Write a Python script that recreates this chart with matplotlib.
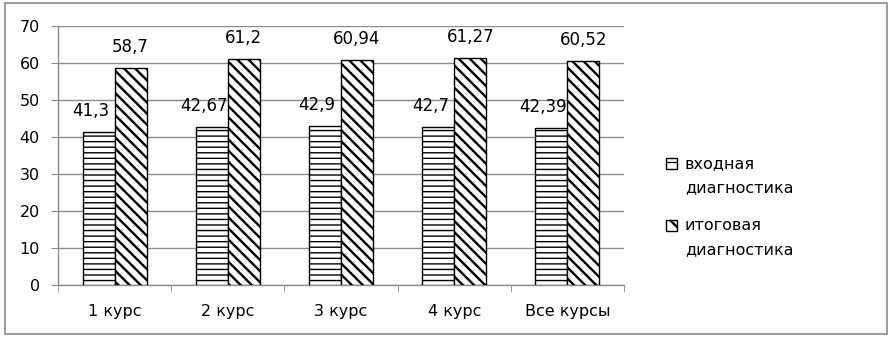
import matplotlib
matplotlib.use("Agg")
import matplotlib.pyplot as plt
import numpy as np
from matplotlib.patches import Rectangle

categories = ["1 курс", "2 курс", "3 курс", "4 курс", "Все курсы"]
entry_vals = [41.3, 42.67, 42.9, 42.7, 42.39]
final_vals = [58.7, 61.2, 60.94, 61.27, 60.52]
entry_labels = ["41,3", "42,67", "42,9", "42,7", "42,39"]
final_labels = ["58,7", "61,2", "60,94", "61,27", "60,52"]
series_names = ["входная\nдиагностика", "итоговая\nдиагностика"]

plt.rcParams['font.family'] = ['DejaVu Sans']
plt.rcParams['hatch.color'] = 'black'

W, H = 894, 341
fig = plt.figure(figsize=(W/100, H/100), dpi=100)
ax = fig.add_axes([58/W, 1 - 285/H, (624-58)/W, (285-26)/H])

x = np.arange(len(categories))
w = 0.283
hatches = ['---', '\\\\\\']
hlw = [1.0, 1.7]

plt.rcParams['hatch.linewidth'] = hlw[0]
b1 = ax.bar(x - w/2, entry_vals, w, color='white', edgecolor='black', hatch=hatches[0], linewidth=1.0, zorder=3)
plt.rcParams['hatch.linewidth'] = hlw[1]
b2 = ax.bar(x + w/2, final_vals, w, color='white', edgecolor='black', hatch=hatches[1], linewidth=1.0, zorder=3)
for bars, lw in ((b1, hlw[0]), (b2, hlw[1])):
    for p in bars:
        if hasattr(p, 'set_hatch_linewidth'):
            p.set_hatch_linewidth(lw)

fs = 11.5
vfs = 12
for xi, v, lab in zip(x, entry_vals, entry_labels):
    ax.text(xi - w/2 - 0.07, v + 3.2, lab, ha='center', va='bottom', fontsize=vfs)
for xi, v, lab in zip(x, final_vals, final_labels):
    ax.text(xi + w/2, v + 3.2, lab, ha='center', va='bottom', fontsize=vfs)

ax.set_xlim(-0.5, len(categories) - 0.5)
ax.set_ylim(0, 70)
ax.set_yticks(range(0, 71, 10))
ax.yaxis.grid(True, color='#8c8c8c', linewidth=1.0, zorder=0)
ax.set_axisbelow(True)

ax.set_xticks(x)
ax.set_xticklabels(categories, fontsize=fs)
ax.set_xticks(np.arange(-0.5, len(categories)), minor=True)
ax.tick_params(axis='x', which='major', length=0, pad=14)
ax.tick_params(axis='x', which='minor', length=5, color='#8c8c8c', direction='out')
ax.tick_params(axis='y', labelsize=fs, length=5, color='#8c8c8c', direction='out', pad=8)

for s in ['top', 'right']:
    ax.spines[s].set_visible(False)
for s in ['left', 'bottom']:
    ax.spines[s].set_color('#8c8c8c')
    ax.spines[s].set_linewidth(1.0)

# legend drawn manually (marker aligned to first text line)
leg_y = [158, 220]
leg_hatches = ['--', '\\\\']
for i, (name, yy) in enumerate(zip(series_names, leg_y)):
    plt.rcParams['hatch.linewidth'] = hlw[i]
    r = Rectangle((666/W, 1 - (yy + 11)/H), 11/W, 11/H, transform=fig.transFigure,
                  facecolor='white', edgecolor='black', hatch=leg_hatches[i],
                  linewidth=1.0)
    if hasattr(r, 'set_hatch_linewidth'):
        r.set_hatch_linewidth(hlw[i])
    fig.patches.append(r)
    fig.text(685/W, 1 - (yy - 2)/H, name, ha='left', va='top', fontsize=fs, linespacing=1.75)

fig.patches.append(Rectangle((5/W, 1 - 334/H), (887-5)/W, (334-3)/H,
                             transform=fig.transFigure, fill=False,
                             edgecolor='#8c8c8c', linewidth=1.2))

fig.savefig("out.png", dpi=100)
